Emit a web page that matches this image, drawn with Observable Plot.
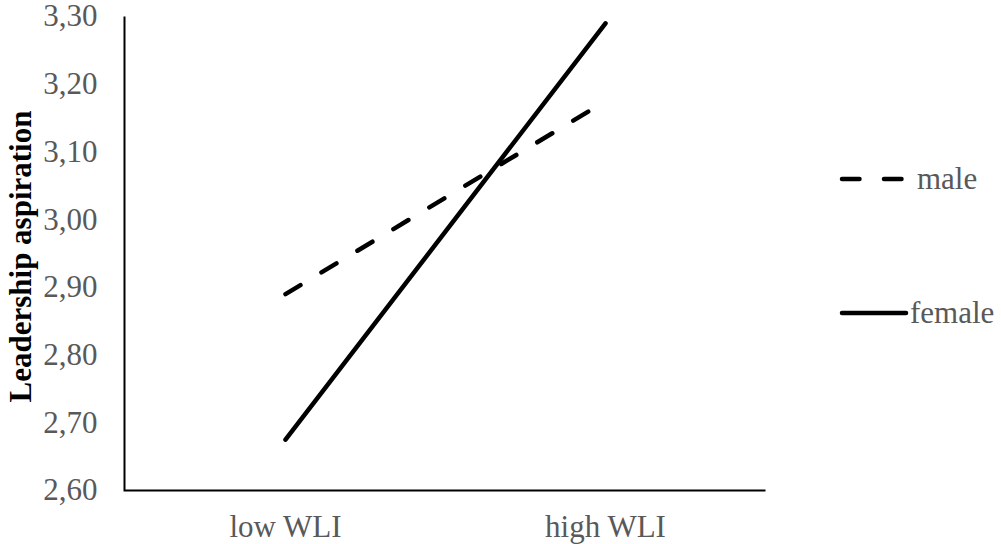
<!DOCTYPE html>
<html>
<head>
<meta charset="utf-8">
<script src="https://cdn.jsdelivr.net/npm/d3@7"></script>
<script src="https://cdn.jsdelivr.net/npm/@observablehq/plot@0.6"></script>
<style>
  body { margin: 0; background: white; }
  #wrap { position: relative; width: 1001px; height: 544px; overflow: hidden; font-family: "Liberation Serif", "Times New Roman", "DejaVu Serif", serif; }
  #wrap svg text { font-family: "Liberation Serif", "Times New Roman", "DejaVu Serif", serif; }
  #legend { position: absolute; left: 0; top: 0; }
</style>
</head>
<body>
<div id="wrap"></div>
<script>
const categories = ["low WLI", "high WLI"];
const maleValues = [2.89, 3.175];
const femaleValues = [2.675, 3.29];
const yTicks = [2.6, 2.7, 2.8, 2.9, 3.0, 3.1, 3.2, 3.3];
const seriesNames = ["male", "female"];

const male = categories.map((c, i) => ({cat: c, value: maleValues[i]}));
const female = categories.map((c, i) => ({cat: c, value: femaleValues[i]}));
const fmt = d => d.toFixed(2).replace(".", ",");
const serif = '"Liberation Serif", "Times New Roman", "DejaVu Serif", serif';

const W = 1001, H = 544, mL = 124, mR = 236, mT = 16, mB = 54;
const fw = W - mL - mR, fh = H - mT - mB;

const chart = Plot.plot({
  width: W,
  height: H,
  marginLeft: mL,
  marginRight: mR,
  marginTop: mT,
  marginBottom: mB,
  style: {fontFamily: serif, fontSize: "31px", color: "#595959", background: "white"},
  x: {type: "point", domain: categories, padding: 0.5},
  y: {domain: [2.6, 3.3]},
  marks: [
    Plot.axisY({ticks: yTicks, tickFormat: fmt, tickSize: 0, tickPadding: 27, label: null, fill: "#595959"}),
    Plot.axisX({tickSize: 0, tickPadding: 24, label: null, fill: "#595959"}),
    // bottom + left axis lines: frame stroke dashed so only those two sides show
    Plot.frame({stroke: "black", strokeWidth: 2, strokeDasharray: `0,${fw + fh},${fw + fh}`, strokeLinecap: "butt"}),
    Plot.line(male, {x: "cat", y: "value", stroke: "black", strokeWidth: 4.5, strokeLinecap: "round", strokeDasharray: "17.5,24.5"}),
    Plot.line(female, {x: "cat", y: "value", stroke: "black", strokeWidth: 4.5, strokeLinecap: "round"}),
    Plot.text(["Leadership aspiration"], {frameAnchor: "left", dx: -103, dy: 3, rotate: -90, fill: "black", fontWeight: "bold", fontSize: 31, textAnchor: "middle", lineAnchor: "middle"})
  ]
});
document.getElementById("wrap").appendChild(chart);

// Legend (right side)
const leg = d3.select("#wrap").append("svg").attr("id", "legend").attr("width", W).attr("height", H)
  .style("pointer-events", "none");
const legendItems = [
  {name: seriesNames[0], y: 179, x2: 905, dash: "17.5,24.5", tx: 917},
  {name: seriesNames[1], y: 313, x2: 908, dash: null, tx: 910}
];
legendItems.forEach(it => {
  const l = leg.append("line").attr("x1", 842).attr("x2", it.x2 - 2).attr("y1", it.y).attr("y2", it.y)
    .attr("stroke", "black").attr("stroke-width", 4.5).attr("stroke-linecap", "round");
  if (it.dash) l.attr("stroke-dasharray", it.dash);
  leg.append("text").attr("x", it.tx).attr("y", it.y).attr("dy", "0.32em")
    .style("font-family", serif).attr("font-size", 31).attr("fill", "#595959").text(it.name);
});
</script>
</body>
</html>
